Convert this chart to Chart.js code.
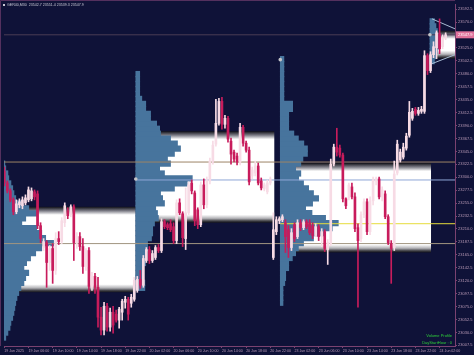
<!DOCTYPE html>
<html>
<head>
<meta charset="utf-8">
<title>GER40 M30 - Volume Profile</title>
<script src="https://cdn.jsdelivr.net/npm/chart.js@4.4.1/dist/chart.umd.min.js"></script>
<style>
  html, body { margin: 0; padding: 0; background: #0f1238; overflow: hidden; }
  canvas { display: block; }
</style>
</head>
<body>
<canvas id="chart" width="474" height="355"></canvas>
<script>
const BG = '#0f1238';
const AXIS = '#7a4270';
const LABEL = '#b99ab6';
const BULL = '#f7dbe5';
const BEAR = '#c81c5c';
const PROFILE = '#47749d';
const ROW = 8.65; // price height of one profile row

// M30 candles, bar 0 = 19 Jun 02:00
const candleOpen = [
  23310.9, 23290.1, 23276.3, 23260.7, 23240.0, 23252.1, 23250.4, 23255.5, 23260.7, 23262.5,
  23274.6, 23271.1, 23215.8, 23177.7, 23186.3, 23151.7, 23176.0, 23137.9, 23193.3, 23188.1,
  23220.9, 23241.7, 23234.8, 23248.6, 23186.3, 23196.7, 23179.4, 23144.8, 23172.5, 23110.2,
  23127.5, 23108.5, 23056.6, 23034.1, 23075.6, 23039.3, 23065.2, 23061.8, 23051.4, 23065.2,
  23082.5, 23087.7, 23080.8, 23087.7, 23103.3, 23122.3, 23112.0, 23155.2, 23174.2, 23155.2,
  23160.4, 23177.7, 23172.5, 23222.7, 23217.5, 23219.2, 23214.0, 23189.8, 23255.5, 23236.5,
  23193.3, 23238.2, 23290.1, 23272.8, 23243.4, 23217.5, 23286.7, 23252.1, 23293.6, 23328.2,
  23357.6, 23393.9, 23432.0, 23392.2, 23402.6, 23362.8, 23343.8, 23336.9, 23326.5, 23387.0,
  23359.3, 23347.2, 23302.3, 23307.4, 23319.6, 23293.6, 23279.8, 23274.6, 23290.1, 23160.4,
  23205.4, 23224.4, 23226.1, 23220.9, 23208.8, 23177.7, 23217.5, 23196.7, 23220.9, 23212.3,
  23222.7, 23220.9, 23215.8, 23198.5, 23214.0, 23196.7, 23205.4, 23174.2, 23184.6, 23323.0,
  23352.4, 23350.7, 23338.6, 23262.5, 23264.2, 23283.2, 23265.9, 23212.3, 23193.3, 23234.8,
  23257.3, 23205.4, 23259.0, 23293.6, 23297.1, 23265.9, 23271.1, 23231.3, 23184.6, 23177.7,
  23307.4, 23329.9, 23335.1, 23350.7, 23373.2, 23402.6, 23418.2, 23411.2, 23414.7, 23414.7,
  23511.6, 23485.6, 23513.3, 23525.4, 23549.6, 23527.2, 23542.7
];
const candleHigh = [
  23317.8, 23293.6, 23279.8, 23264.2, 23260.7, 23262.5, 23265.9, 23269.4, 23283.2, 23281.5,
  23278.0, 23276.3, 23220.9, 23193.3, 23189.8, 23181.2, 23184.6, 23203.6, 23205.4, 23229.6,
  23255.5, 23246.9, 23252.1, 23252.1, 23203.6, 23203.6, 23193.3, 23176.0, 23177.7, 23134.4,
  23132.7, 23125.8, 23073.9, 23082.5, 23080.8, 23072.2, 23075.6, 23068.7, 23073.9, 23087.7,
  23092.9, 23091.2, 23096.4, 23125.8, 23127.5, 23137.9, 23163.9, 23177.7, 23179.4, 23172.5,
  23181.2, 23182.9, 23227.9, 23226.1, 23220.9, 23226.1, 23220.9, 23260.7, 23262.5, 23240.0,
  23281.5, 23291.9, 23295.3, 23276.3, 23246.9, 23291.9, 23297.1, 23300.5, 23333.4, 23362.8,
  23435.5, 23437.2, 23438.9, 23407.8, 23406.1, 23368.0, 23347.2, 23342.0, 23393.9, 23390.5,
  23362.8, 23352.4, 23317.8, 23328.2, 23324.7, 23298.8, 23290.1, 23295.3, 23300.5, 23238.2,
  23231.3, 23231.3, 23234.8, 23226.1, 23215.8, 23210.6, 23220.9, 23226.1, 23226.1, 23226.1,
  23226.1, 23226.1, 23220.9, 23219.2, 23217.5, 23210.6, 23208.8, 23191.5, 23331.7, 23357.6,
  23385.3, 23355.9, 23342.0, 23264.2, 23290.1, 23290.1, 23272.8, 23219.2, 23240.0, 23262.5,
  23262.5, 23265.9, 23300.5, 23300.5, 23300.5, 23283.2, 23276.3, 23234.8, 23189.8, 23328.2,
  23364.5, 23349.0, 23359.3, 23376.6, 23432.0, 23419.9, 23421.6, 23421.6, 23423.4, 23520.2,
  23515.0, 23518.5, 23535.8, 23554.8, 23575.6, 23547.9, 23551.4
];
const candleLow = [
  23285.0, 23272.8, 23257.3, 23234.8, 23236.5, 23246.9, 23245.2, 23252.1, 23257.3, 23259.0,
  23260.7, 23210.6, 23186.3, 23172.5, 23108.5, 23137.9, 23115.4, 23131.0, 23182.9, 23184.6,
  23214.0, 23227.9, 23231.3, 23155.2, 23176.0, 23172.5, 23132.7, 23137.9, 23098.1, 23103.3,
  23098.1, 23039.3, 23025.5, 23025.5, 23032.4, 23032.4, 23028.9, 23047.9, 23037.6, 23051.4,
  23072.2, 23051.4, 23073.9, 23084.3, 23099.8, 23106.8, 23108.5, 23151.7, 23150.0, 23151.7,
  23156.9, 23169.0, 23169.0, 23210.6, 23208.8, 23205.4, 23184.6, 23184.6, 23234.8, 23179.4,
  23174.2, 23234.8, 23271.1, 23215.8, 23210.6, 23214.0, 23245.2, 23246.9, 23288.4, 23323.0,
  23354.2, 23390.5, 23383.6, 23385.3, 23361.1, 23323.0, 23326.5, 23321.3, 23321.3, 23354.2,
  23343.8, 23286.7, 23297.1, 23302.3, 23286.7, 23278.0, 23276.3, 23271.1, 23286.7, 23156.9,
  23200.2, 23219.2, 23222.7, 23169.0, 23160.4, 23172.5, 23188.1, 23193.3, 23207.1, 23208.8,
  23210.6, 23200.2, 23193.3, 23196.7, 23189.8, 23179.4, 23170.8, 23148.3, 23181.2, 23319.6,
  23336.9, 23335.1, 23257.3, 23245.2, 23260.7, 23262.5, 23205.4, 23073.9, 23188.1, 23229.6,
  23200.2, 23200.2, 23252.1, 23286.7, 23262.5, 23259.0, 23227.9, 23182.9, 23115.4, 23172.5,
  23304.0, 23326.5, 23331.7, 23347.2, 23369.7, 23399.1, 23407.8, 23407.8, 23411.2, 23411.2,
  23478.7, 23482.2, 23508.1, 23506.4, 23515.0, 23523.7, 23539.3
];
const candleClose = [
  23290.1, 23276.3, 23260.7, 23240.0, 23253.8, 23257.3, 23260.7, 23264.2, 23278.0, 23276.3,
  23265.9, 23215.8, 23193.3, 23188.1, 23151.7, 23176.0, 23137.9, 23193.3, 23188.1, 23224.4,
  23250.4, 23233.1, 23248.6, 23186.3, 23196.7, 23179.4, 23144.8, 23172.5, 23110.2, 23127.5,
  23108.5, 23056.6, 23034.1, 23075.6, 23039.3, 23065.2, 23042.8, 23051.4, 23070.4, 23084.3,
  23087.7, 23061.8, 23091.2, 23120.6, 23122.3, 23112.0, 23158.7, 23174.2, 23155.2, 23167.3,
  23177.7, 23172.5, 23222.7, 23214.0, 23212.3, 23208.8, 23189.8, 23255.5, 23238.2, 23195.0,
  23238.2, 23286.7, 23276.3, 23224.4, 23217.5, 23286.7, 23252.1, 23293.6, 23328.2, 23355.9,
  23393.9, 23432.0, 23392.2, 23402.6, 23366.3, 23340.3, 23331.7, 23326.5, 23387.0, 23359.3,
  23347.2, 23291.9, 23312.6, 23319.6, 23290.1, 23281.5, 23286.7, 23290.1, 23297.1, 23208.8,
  23226.1, 23227.9, 23231.3, 23196.7, 23177.7, 23203.6, 23193.3, 23220.9, 23212.3, 23222.7,
  23214.0, 23203.6, 23198.5, 23214.0, 23196.7, 23205.4, 23176.0, 23186.3, 23323.0, 23352.4,
  23343.8, 23338.6, 23262.5, 23250.4, 23286.7, 23265.9, 23210.6, 23189.8, 23234.8, 23257.3,
  23205.4, 23259.0, 23295.3, 23297.1, 23265.9, 23278.0, 23231.3, 23186.3, 23176.0, 23305.7,
  23357.6, 23343.8, 23352.4, 23371.5, 23413.0, 23414.7, 23411.2, 23416.4, 23418.2, 23511.6,
  23485.6, 23513.3, 23527.2, 23551.4, 23523.7, 23542.7, 23547.9
];

const xTickBars = [0, 8, 16, 24, 32, 40, 48, 56, 64, 72, 80, 88, 96, 104, 112, 120, 128, 136, 144];
const xTickLabels = [
  '19 Jun 2025', '19 Jun 06:00', '19 Jun 10:00', '19 Jun 14:00', '19 Jun 18:00', '19 Jun 22:00',
  '20 Jun 02:00', '20 Jun 06:00', '20 Jun 10:00', '20 Jun 14:00', '20 Jun 18:00', '20 Jun 22:00',
  '23 Jun 02:00', '23 Jun 06:00', '23 Jun 10:00', '23 Jun 14:00', '23 Jun 18:00', '23 Jun 22:00',
  '24 Jun 02:00'
];
const yTickValues = [
  23007.5, 23030.0, 23052.5, 23075.0, 23097.5, 23120.0, 23142.5, 23165.0, 23187.5,
  23210.0, 23232.5, 23255.0, 23277.5, 23300.0, 23322.5, 23345.0, 23367.5, 23390.0,
  23412.5, 23435.0, 23457.5, 23480.0, 23502.5, 23525.0, 23547.5, 23570.0, 23592.5
];

// daily volume profiles, row lengths in bars, lowest row first
const prof1Vol = [5.0, 5.7, 6.4, 6.7, 7.3, 7.7, 8.0, 8.3, 8.7, 9.3, 10.0, 11.0, 11.6, 12.6, 11.0, 11.9, 13.2, 14.9,
  16.9, 20.8, 18.2, 16.9, 15.2, 10.3, 11.6, 15.2, 12.6, 10.3, 8.3, 7.7, 7.3, 6.7, 6.0, 5.7, 5.0, 4.7];
const prof2Vol = [3.0, 3.0, 2.3, 2.3, 2.6, 3.3, 3.3, 3.3, 3.9, 3.9, 5.2, 5.6, 5.6, 6.2, 7.5, 7.2, 6.6, 9.5, 8.9, 8.2,
  12.8, 17.0, 18.7, 9.5, 7.9, 11.5, 10.5, 12.8, 14.8, 13.8, 11.5, 8.2, 7.9, 6.9, 4.9, 4.9, 3.3, 3.3, 2.0, 1.3,
  1.3, 1.3, 1.3, 1.3];
const prof3Vol = [0.9, 0.9, 0.9, 0.9, 1.5, 1.8, 1.8, 2.8, 2.8, 4.0, 5.1, 6.0, 7.7, 11.0, 14.3, 17.2, 19.2, 15.0,
  10.5, 8.4, 10.7, 12.7, 11.0, 9.4, 7.7, 6.1, 6.8, 5.1, 6.8, 7.5, 9.0, 9.0, 7.8, 6.0, 4.5, 2.8, 2.8, 2.8, 2.8,
  4.1, 4.1, 1.2, 1.2, 1.2, 1.2, 1.2, 1.2, 1.2, 1.2, 1.2];
const prof4Vol = [1.5, 2.0, 2.5, 3.0, 3.0, 3.0, 2.5, 2.0, 1.5];
const profLow = [23021.1, 23107.6, 23081.7, 23502.1];
const profStart = [-4.5, 43.5, 91.3, 140.8];

// value areas
const boxStart = [-4.5, 43.5, 91.3, 141.5];
const boxEnd = [43.5, 89.4, 141.2, 149.1];
const boxTop = [23248.6, 23380.1, 23324.7, 23554.8];
const boxBottom = [23099.8, 23220.9, 23169.0, 23506.4];

// horizontal levels (POC lines etc.), last one is the bid line
const levelPrice = [23326.5, 23295.3, 23219.2, 23184.6, 23547.9];
const levelFrom = [-0.1, 43.5, 91.3, -4.5, -0.1];
const levelColor = ['#9c8466', '#8ea6d6', '#e6dc3c', '#a19580', '#4b3d55'];

const dotBar = [43.5, 91.3, 140.8];
const dotPrice = [23297.1, 23504.7, 23547.9];

const lastPrice = 23547.9;

const bullWick = [], bullBody = [], bearWick = [], bearBody = [];
candleOpen.forEach((o, i) => {
  const c = candleClose[i];
  const wick = { x: i, y: [candleLow[i], candleHigh[i]] };
  const body = { x: i, y: [o, c] };
  if (c >= o) { bullWick.push(wick); bullBody.push(body); }
  else { bearWick.push(wick); bearBody.push(body); }
});

function boxFill(top, bottom) {
  return function(context) {
    const chart = context.chart;
    if (!chart.chartArea) return '#ffffff';
    const y0 = chart.scales.y.getPixelForValue(top);
    const y1 = chart.scales.y.getPixelForValue(bottom);
    const f = Math.min(0.4, 8 / (y1 - y0));
    const g = chart.ctx.createLinearGradient(0, y0, 0, y1);
    g.addColorStop(0, '#101018');
    g.addColorStop(f * 0.5, '#7c7c86');
    g.addColorStop(f, '#ffffff');
    g.addColorStop(1 - f, '#ffffff');
    g.addColorStop(1 - f * 0.55, '#b4b4b8');
    g.addColorStop(1 - f * 0.2, '#3a3a40');
    g.addColorStop(1, '#15151c');
    return g;
  };
}

const datasets = [];

boxStart.forEach((s, k) => {
  datasets.push({
    type: 'line', order: 4, borderWidth: 0, pointRadius: 0, fill: '+1',
    backgroundColor: boxFill(boxTop[k], boxBottom[k]),
    data: [{ x: s, y: boxTop[k] }, { x: boxEnd[k], y: boxTop[k] }]
  });
  datasets.push({
    type: 'line', order: 4, borderWidth: 0, pointRadius: 0, fill: false,
    data: [{ x: s, y: boxBottom[k] }, { x: boxEnd[k], y: boxBottom[k] }]
  });
});

[prof1Vol, prof2Vol, prof3Vol, prof4Vol].forEach((vols, k) => {
  datasets.push({
    type: 'bar', indexAxis: 'y', grouped: false, order: 3,
    barThickness: 5.6, backgroundColor: PROFILE, borderWidth: 0,
    data: vols.map((v, r) => ({ y: profLow[k] + r * ROW, x: [profStart[k], profStart[k] + v] }))
  });
});

levelPrice.forEach((p, k) => {
  datasets.push({
    type: 'line', order: 2, borderColor: levelColor[k], borderWidth: 1, pointRadius: 0, fill: false,
    data: [{ x: levelFrom[k], y: p }, { x: 149.1, y: p }]
  });
});

// edges of the running day's profile
datasets.push({
  type: 'line', order: 2, borderColor: '#a8bcd4', borderWidth: 1, pointRadius: 0, fill: false,
  data: [{ x: 141.5, y: 23575.6 }, { x: 149.1, y: 23558.3 }]
});
datasets.push({
  type: 'line', order: 2, borderColor: '#a8bcd4', borderWidth: 1, pointRadius: 0, fill: false,
  data: [{ x: 141.5, y: 23497.7 }, { x: 149.1, y: 23513.3 }]
});

datasets.push({
  type: 'line', order: 0, showLine: false, pointRadius: 1.8, pointBorderWidth: 0,
  pointBackgroundColor: '#c4c4c8',
  data: dotBar.map((b, k) => ({ x: b, y: dotPrice[k] }))
});

datasets.push({ type: 'bar', grouped: false, order: 1, barThickness: 1, backgroundColor: BULL, borderWidth: 0, data: bullWick });
datasets.push({ type: 'bar', grouped: false, order: 1, barThickness: 2, backgroundColor: BULL, borderWidth: 0, data: bullBody });
datasets.push({ type: 'bar', grouped: false, order: 1, barThickness: 1, backgroundColor: BEAR, borderWidth: 0, data: bearWick });
datasets.push({ type: 'bar', grouped: false, order: 1, barThickness: 2, backgroundColor: BEAR, borderWidth: 0, data: bearBody });

const overlay = {
  id: 'overlay',
  beforeDraw(chart) {
    const c = chart.ctx;
    c.save();
    c.fillStyle = BG;
    c.fillRect(0, 0, chart.width, chart.height);
    c.restore();
  },
  afterDraw(chart) {
    const c = chart.ctx, a = chart.chartArea;
    const n = candleClose.length - 1;
    c.save();
    c.strokeStyle = '#54305e';
    c.lineWidth = 1;
    c.beginPath();
    c.moveTo(0.5, a.bottom);
    c.lineTo(0.5, 0.5);
    c.lineTo(a.right, 0.5);
    c.stroke();

    c.font = '3.6px "Liberation Sans"';
    c.textBaseline = 'middle';
    c.textAlign = 'left';
    c.fillStyle = '#c9c9d4';
    c.fillRect(3, 4, 2, 2);
    c.fillText('GER40,M30  ' + [candleOpen[n], candleHigh[n], candleLow[n], candleClose[n]].map(v => v.toFixed(1)).join(' '), 7, 5.2);

    const py = chart.scales.y.getPixelForValue(lastPrice);
    c.fillStyle = '#e0729b';
    c.fillRect(a.right + 1, py - 3.5, 18, 7);
    c.fillStyle = '#ffffff';
    c.font = '4px "Liberation Sans"';
    c.fillText(lastPrice.toFixed(1), a.right + 3, py + 0.3);

    c.fillStyle = '#2fd03a';
    c.textAlign = 'right';
    c.fillText('Volume Profile', a.right - 3, 336);
    c.fillText('DayStartHour : 0', a.right - 3, 343);
    c.restore();
  }
};

Chart.defaults.font.family = 'Liberation Sans';

new Chart(document.getElementById('chart'), {
  type: 'bar',
  data: { datasets: datasets },
  options: {
    responsive: false,
    animation: false,
    devicePixelRatio: 1,
    layout: { padding: { top: 2, left: 0, right: 0, bottom: 0 } },
    plugins: { legend: { display: false }, tooltip: { enabled: false } },
    scales: {
      x: {
        type: 'linear', min: -0.1, max: 149.1, offset: false, beginAtZero: false,
        grid: { display: true, offset: false, drawOnChartArea: false, drawTicks: true, tickLength: 2, color: AXIS },
        border: { display: true, color: AXIS },
        ticks: {
          autoSkip: false, maxRotation: 0, align: 'start', padding: 1, color: LABEL,
          font: { size: 3.6 },
          callback: (v, i) => xTickLabels[i]
        },
        afterBuildTicks: s => { s.ticks = xTickBars.map(v => ({ value: v })); },
        afterFit: s => { s.height = 9; s.paddingLeft = 0; s.paddingRight = 0; }
      },
      y: {
        type: 'linear', position: 'right', min: 23006.4, max: 23601.5, offset: false, beginAtZero: false,
        grid: { display: true, offset: false, drawOnChartArea: false, drawTicks: true, tickLength: 2, color: AXIS },
        border: { display: true, color: AXIS },
        ticks: {
          padding: 1, color: LABEL, font: { size: 4 },
          callback: v => v.toFixed(1)
        },
        afterBuildTicks: s => { s.ticks = yTickValues.map(v => ({ value: v })); },
        afterFit: s => { s.width = 19; s.paddingTop = 0; s.paddingBottom = 0; }
      }
    }
  },
  plugins: [overlay]
});
</script>
</body>
</html>
